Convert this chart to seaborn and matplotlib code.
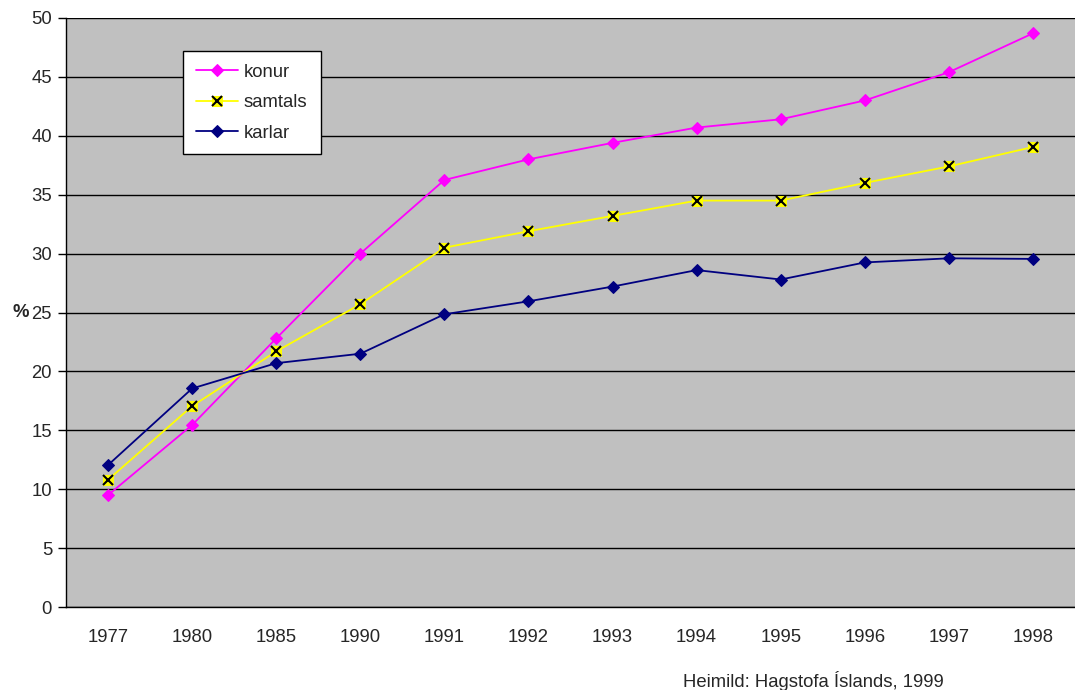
import matplotlib
matplotlib.use("Agg")
import matplotlib.pyplot as plt
import seaborn as sns
import pandas as pd
from matplotlib.ticker import FixedLocator, MultipleLocator
from matplotlib.legend_handler import HandlerTuple

years = ["1977", "1980", "1985", "1990", "1991", "1992", "1993", "1994", "1995", "1996", "1997", "1998"]
konur = [9.5, 15.45, 22.8, 30.0, 36.25, 38.0, 39.4, 40.7, 41.4, 43.0, 45.4, 48.7]
samtals = [10.8, 17.05, 21.7, 25.7, 30.5, 31.9, 33.2, 34.5, 34.5, 36.0, 37.4, 39.05]
karlar = [12.05, 18.55, 20.7, 21.5, 24.85, 25.95, 27.2, 28.6, 27.8, 29.25, 29.6, 29.55]

sns.set_style("white")
plt.rcParams["font.family"] = ["Liberation Sans", "DejaVu Sans"]

df = pd.DataFrame({"ar": years, "konur": konur, "samtals": samtals, "karlar": karlar})
df["pos"] = range(len(years))

FS = 13.3

fig = plt.figure(figsize=(10.75, 6.9), dpi=100)
ax = fig.add_axes([66 / 1075, 1 - 607 / 690, 1 - 66 / 1075, (607 - 18) / 690])
ax.set_facecolor("#C0C0C0")

ax.set_axisbelow(True)
ax.yaxis.grid(True, color="black", linewidth=1.0)
ax.xaxis.grid(False)

sns.lineplot(data=df, x="pos", y="konur", ax=ax, color="#FF00FF", linewidth=1.3,
             marker="D", markersize=6, markeredgecolor="#FF00FF", label="_k")
l_k = ax.lines[-1]
sns.lineplot(data=df, x="pos", y="samtals", ax=ax, color="#FFFF00", linewidth=1.3,
             marker="s", markersize=7, markeredgecolor="#FFFF00", label="_s")
l_s = ax.lines[-1]
l_sx, = ax.plot(df["pos"], df["samtals"], linestyle="none", marker="x", markersize=7,
                markeredgewidth=1.5, color="black")
sns.lineplot(data=df, x="pos", y="karlar", ax=ax, color="#000080", linewidth=1.3,
             marker="D", markersize=6, markeredgecolor="#000080", label="_m")
l_m = ax.lines[-1]

leg = ax.legend([l_k, (l_s, l_sx), l_m], ["konur", "samtals", "karlar"],
                handler_map={tuple: HandlerTuple(ndivide=1, pad=0)},
                loc="upper left", bbox_to_anchor=((183 - 66) / 1009, 1 - (51 - 18) / 589),
                frameon=True, fancybox=False, edgecolor="black", facecolor="white",
                framealpha=1, fontsize=FS, handlelength=2.3, labelspacing=0.72,
                borderpad=0.7, handletextpad=0.3, borderaxespad=0)
leg.get_frame().set_linewidth(1.0)

ax.set_xlim(-0.5, len(years) - 0.5)
ax.set_ylim(0, 50)
ax.yaxis.set_major_locator(MultipleLocator(5))
ax.set_xticks(df["pos"])
ax.set_xticklabels(years)
ax.xaxis.set_minor_locator(FixedLocator([i - 0.5 for i in range(len(years) + 1)]))
ax.tick_params(axis="x", which="major", length=0, pad=16, labelsize=FS)
ax.tick_params(axis="x", which="minor", length=6, width=1, color="black", direction="out")
ax.tick_params(axis="y", which="major", length=6, width=1, color="black", direction="out",
               labelsize=FS, pad=4, left=True)

for side in ["top", "right"]:
    ax.spines[side].set_visible(False)
for side in ["left", "bottom"]:
    ax.spines[side].set_color("black")
    ax.spines[side].set_linewidth(1.0)

ax.set_xlabel("")
ax.set_ylabel("%", fontsize=FS, fontweight="bold", rotation=0, labelpad=8, va="center")

fig.text(683 / 1075, 1 - 681 / 690, "Heimild: Hagstofa Íslands, 1999", fontsize=FS,
         ha="left", va="center")

fig.savefig("out.png", dpi=100)
